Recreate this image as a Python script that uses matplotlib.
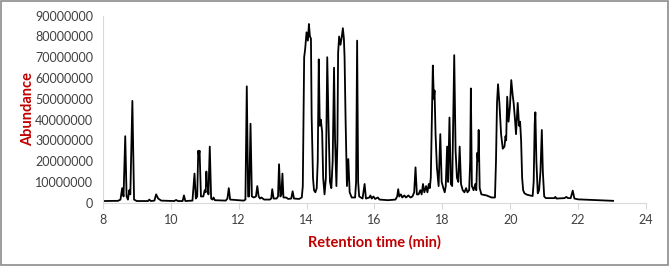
#!/usr/bin/env python3

import numpy as np
import matplotlib
matplotlib.use("Agg")
import matplotlib.pyplot as plt
from matplotlib.patches import Rectangle

# retention time (min) and abundance (millions)
rt = [
    8.05, 8.45, 8.52, 8.57, 8.61, 8.66, 8.70, 8.74, 8.78, 8.81, 8.87, 8.92, 9.00,
    9.33, 9.37, 9.41, 9.52, 9.57, 9.63, 9.72, 10.10, 10.16, 10.21, 10.35, 10.39,
    10.43, 10.64, 10.70, 10.74, 10.78, 10.81, 10.83, 10.85, 10.89, 10.96, 11.00,
    11.03, 11.05, 11.07, 11.09, 11.11, 11.15, 11.19, 11.23, 11.26, 11.30, 11.62,
    11.67, 11.71, 11.75, 12.15, 12.20, 12.24, 12.28, 12.31, 12.35, 12.39, 12.45,
    12.51, 12.55, 12.59, 12.63, 12.67, 12.75, 12.92, 12.96, 12.99, 13.03, 13.12,
    13.16, 13.19, 13.23, 13.26, 13.29, 13.32, 13.40, 13.46, 13.55, 13.59, 13.63,
    13.78, 13.86, 13.89, 13.93, 13.96, 14.00, 14.04, 14.07, 14.10, 14.13, 14.15,
    14.19, 14.22, 14.26, 14.30, 14.33, 14.36, 14.39, 14.42, 14.46, 14.49, 14.53,
    14.57, 14.61, 14.65, 14.69, 14.73, 14.77, 14.81, 14.84, 14.88, 14.91, 14.93,
    14.96, 15.00, 15.04, 15.07, 15.10, 15.12, 15.15, 15.19, 15.23, 15.27, 15.33,
    15.43, 15.46, 15.49, 15.52, 15.55, 15.65, 15.71, 15.75, 15.85, 15.88, 15.92,
    15.97, 16.02, 16.10, 16.15, 16.40, 16.62, 16.67, 16.70, 16.73, 16.78, 16.82,
    16.88, 16.93, 17.00, 17.06, 17.12, 17.17, 17.21, 17.25, 17.30, 17.35, 17.39,
    17.43, 17.47, 17.52, 17.56, 17.60, 17.63, 17.66, 17.69, 17.72, 17.75, 17.77,
    17.80, 17.84, 17.89, 17.94, 17.98, 18.03, 18.07, 18.10, 18.14, 18.17, 18.21,
    18.25, 18.29, 18.32, 18.35, 18.39, 18.43, 18.47, 18.51, 18.55, 18.60, 18.65,
    18.70, 18.74, 18.79, 18.82, 18.84, 18.87, 18.92, 18.97, 19.00, 19.03, 19.05,
    19.07, 19.10, 19.15, 19.30, 19.45, 19.55, 19.58, 19.61, 19.64, 19.68, 19.73,
    19.78, 19.83, 19.86, 19.88, 19.91, 19.95, 19.99, 20.03, 20.07, 20.10, 20.14,
    20.17, 20.20, 20.22, 20.26, 20.29, 20.32, 20.35, 20.38, 20.42, 20.50, 20.60,
    20.66, 20.69, 20.72, 20.74, 20.77, 20.81, 20.85, 20.89, 20.93, 20.96, 21.00,
    21.05, 21.30, 21.33, 21.36, 21.60, 21.65, 21.70, 21.78, 21.84, 21.89, 22.00,
    22.30, 22.60, 23.03,
]
abund_m = [
    0.8, 0.9, 1.5, 7, 3, 32, 3, 1.5, 6, 4, 49, 1.5, 0.8,
    0.8, 1.5, 0.8, 1.0, 4, 2, 1.0, 0.8, 1.3, 0.8, 0.8, 3.5,
    0.8, 1.0, 14, 2, 3, 25, 23, 25, 3, 3, 6,
    5, 15, 8, 9, 4, 27, 2, 1.5, 2.5, 1.2, 1.0,
    2, 7, 1.5, 1.0, 1.5, 56, 3, 3, 38, 3, 2.5,
    3, 8, 3, 2, 2.5, 1.5, 1.5, 2, 6.5, 2, 2,
    3, 18.5, 3, 4, 14, 2.5, 2.5, 1.8, 2, 5.5, 2,
    1.8, 2.5, 8, 70, 74, 82, 78, 86, 80, 79, 42,
    12, 6, 5, 7, 20, 69, 37, 40, 34, 12, 4,
    12, 70, 36, 10, 7, 20, 65, 30, 8, 30, 72,
    80, 76, 80, 84, 79, 70, 40, 8, 21, 5, 2.5,
    2.5, 10, 78, 10, 3, 2, 9, 2, 2.5, 3.5, 2,
    3, 1.8, 2.5, 1.5, 1.2, 1.5, 3, 6.5, 3, 4, 2.5,
    3.5, 2.5, 3.5, 2.5, 3, 5, 17, 4, 4, 6, 4,
    9, 5, 8, 5, 9, 7, 12, 40, 66, 50, 54,
    33, 17, 8, 33, 10, 7, 5, 8, 27, 10, 41,
    9, 8, 40, 71, 25, 12, 10, 27, 9, 6, 5,
    7, 5, 6, 20, 55, 8, 6, 9, 6, 24, 20,
    35, 7, 4, 3.5, 2.5, 2.5, 20, 48, 57, 48, 33,
    26, 27, 32, 30, 51, 39, 46, 59, 52, 48, 40,
    33, 42, 48, 37, 39, 30, 12, 6, 4.5, 3.8, 3.4,
    3.2, 10, 38, 43.5, 20, 4.5, 6, 15, 35, 15, 3,
    2.2, 2.2, 2.8, 2.0, 2.2, 2.8, 2.2, 2.2, 5.8, 2.0, 1.6,
    1.4, 1.2, 0.9,
]

x_ticks = [8, 10, 12, 14, 16, 18, 20, 22, 24]
y_ticks = [0, 10000000, 20000000, 30000000, 40000000, 50000000,
           60000000, 70000000, 80000000, 90000000]

abundance = np.array(abund_m) * 1e6

plt.rcParams["font.family"] = ["Lato", "DejaVu Sans"]

fig = plt.figure(figsize=(6.69, 2.66), dpi=100)
ax = fig.add_axes([0.1537, 0.238, 0.812, 0.703])

ax.plot(rt, abundance, color="k", linewidth=1.3)

ax.set_xlim(8, 24)
ax.set_ylim(0, 90000000)
ax.set_xticks(x_ticks)
ax.set_yticks(y_ticks)
ax.set_yticklabels([str(v) for v in y_ticks])

for s in ["top", "right"]:
    ax.spines[s].set_visible(False)
for s in ["left", "bottom"]:
    ax.spines[s].set_color("#d9d9d9")
    ax.spines[s].set_linewidth(0.8)

ax.tick_params(axis="x", direction="out", length=4, width=0.8, color="#d9d9d9",
               labelsize=9, labelcolor="#404040", pad=4)
ax.tick_params(axis="y", length=0, labelsize=9, labelcolor="#404040", pad=7)

ax.set_xlabel("Retention time (min)", color="#c00000", fontweight="bold",
              fontsize=10.5, labelpad=7)
ax.set_ylabel("Abundance", color="#c00000", fontweight="bold",
              fontsize=10.5, labelpad=0)

fig.patches.append(Rectangle((0.0015, 0.003), 0.997, 0.993, transform=fig.transFigure,
                             fill=False, edgecolor="#8c8c8c", linewidth=1.2))

plt.savefig("out.png", dpi=100)
plt.close(fig)
